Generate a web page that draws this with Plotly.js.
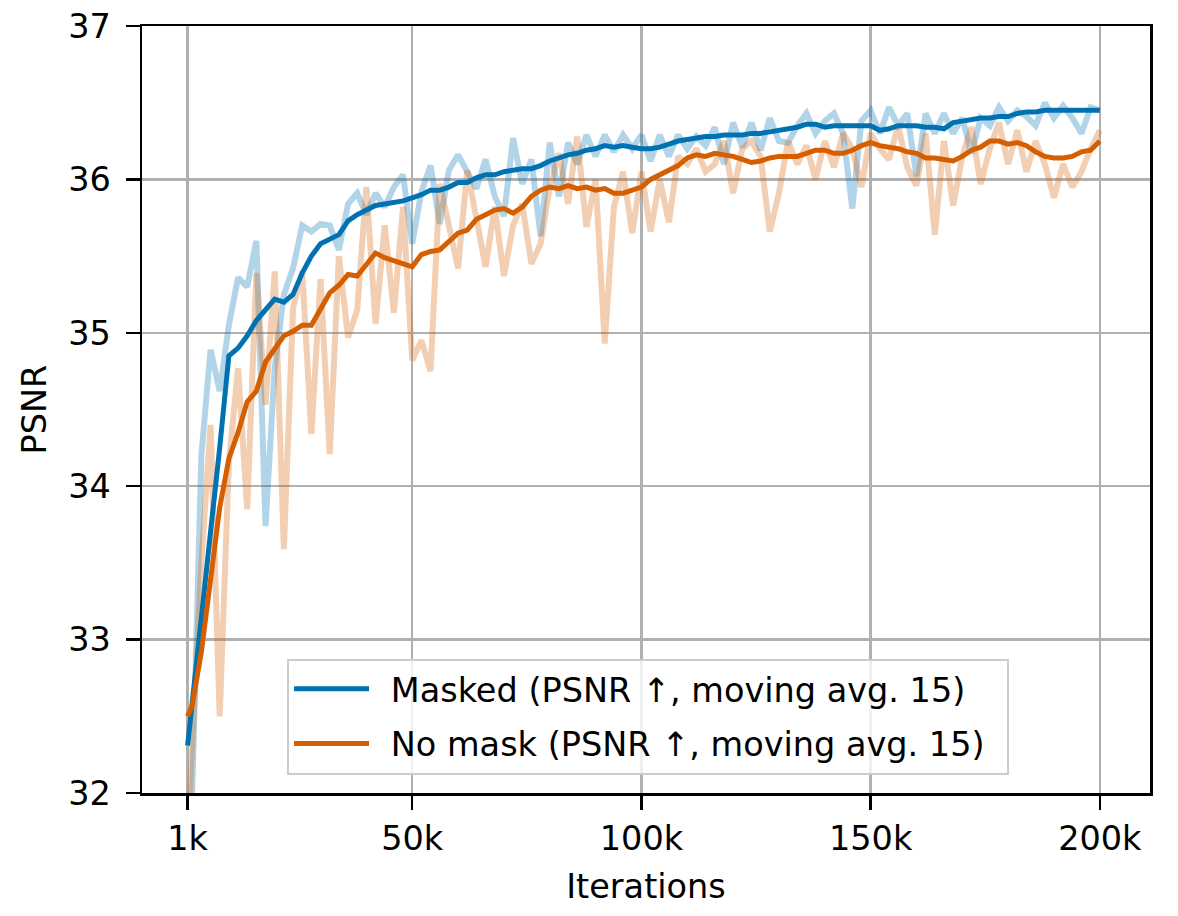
<!DOCTYPE html>
<html>
<head>
<meta charset="utf-8">
<script src="https://cdn.plot.ly/plotly-3.0.1.min.js"></script>
<style>html,body{margin:0;padding:0;background:#fff;}#chart{width:1178px;height:916px;}</style>
</head>
<body>
<div id="chart"></div>
<script>
// iterations (thousands)
const iterK = [1,2,4,6,8,10,12,14,16,18,20,22,24,26,28,30,32,34,36,38,40,42,44,46,48,50,52,54,56,58,60,62,64,66,68,70,72,74,76,78,80,82,84,86,88,90,92,94,96,98,100,102,104,106,108,110,112,114,116,118,120,122,124,126,128,130,132,134,136,138,140,142,144,146,148,150,152,154,156,158,160,162,164,166,168,170,172,174,176,178,180,182,184,186,188,190,192,194,196,198,200];

const maskedRaw = [31.6,32.0,34.2,34.89,34.62,35.05,35.36,35.30,35.60,33.74,34.77,35.25,35.42,35.70,35.66,35.71,35.70,35.54,35.84,35.91,35.77,35.91,35.82,35.95,36.03,35.58,35.92,36.09,35.71,36.06,36.16,36.04,35.94,36.13,35.89,35.76,36.27,35.97,36.13,35.63,36.24,35.89,36.24,36.10,36.29,36.15,36.29,36.18,36.29,36.20,36.29,36.12,36.29,36.15,36.29,36.20,36.28,36.22,36.34,36.10,36.37,36.21,36.37,36.19,36.40,36.25,36.24,36.35,36.43,36.30,36.38,36.43,36.30,35.81,36.38,36.45,36.30,36.47,36.35,36.43,36.02,36.43,36.30,36.43,36.30,36.40,36.17,36.40,36.35,36.47,36.38,36.45,36.41,36.35,36.50,36.40,36.48,36.40,36.30,36.47,36.45];

const maskedAvg = [32.31,32.6,33.15,33.7,34.25,34.85,34.90,34.98,35.08,35.15,35.22,35.20,35.25,35.39,35.50,35.58,35.61,35.64,35.73,35.77,35.80,35.83,35.84,35.85,35.86,35.88,35.90,35.93,35.93,35.95,35.98,35.98,36.01,36.03,36.03,36.05,36.06,36.07,36.07,36.09,36.12,36.14,36.16,36.17,36.19,36.20,36.22,36.21,36.22,36.21,36.20,36.20,36.21,36.23,36.25,36.26,36.27,36.28,36.28,36.29,36.29,36.29,36.30,36.30,36.31,36.32,36.33,36.34,36.36,36.36,36.34,36.35,36.35,36.35,36.35,36.35,36.32,36.33,36.35,36.35,36.35,36.34,36.34,36.33,36.37,36.38,36.39,36.40,36.40,36.41,36.41,36.43,36.44,36.44,36.45,36.45,36.45,36.45,36.45,36.45,36.45];

const noMaskRaw = [31.7,32.3,33.5,34.40,32.50,34.15,34.77,33.85,35.39,34.53,35.40,33.59,35.16,35.40,34.34,35.35,34.21,35.50,34.97,35.15,35.95,35.06,35.70,35.13,35.82,34.82,34.95,34.75,35.97,35.70,35.42,36.06,35.75,35.43,35.82,35.37,35.70,35.84,35.45,35.58,35.95,36.17,35.84,36.28,35.69,36.00,34.93,35.82,36.05,35.65,36.05,35.66,36.00,35.72,36.15,36.10,36.20,36.05,36.10,36.25,35.91,36.20,36.25,36.15,35.66,35.91,36.25,36.10,36.22,36.00,36.25,36.08,36.30,36.20,35.95,36.30,36.20,36.13,36.35,36.08,35.96,36.30,35.64,36.25,35.83,36.15,36.34,35.97,36.20,36.37,36.10,36.32,36.05,36.25,36.10,35.88,36.10,35.95,36.05,36.20,36.32];

const noMaskAvg = [32.50,32.57,32.92,33.36,33.86,34.18,34.35,34.55,34.62,34.81,34.90,34.98,35.01,35.05,35.05,35.15,35.26,35.31,35.38,35.37,35.45,35.52,35.49,35.47,35.45,35.43,35.51,35.53,35.54,35.60,35.65,35.67,35.74,35.77,35.80,35.81,35.78,35.82,35.89,35.93,35.95,35.94,35.96,35.94,35.95,35.93,35.94,35.91,35.91,35.93,35.95,36.00,36.03,36.06,36.09,36.14,36.16,36.15,36.17,36.16,36.15,36.13,36.11,36.12,36.14,36.15,36.15,36.15,36.17,36.19,36.19,36.17,36.17,36.19,36.22,36.24,36.22,36.21,36.20,36.18,36.17,36.14,36.14,36.13,36.12,36.15,36.19,36.21,36.25,36.25,36.23,36.24,36.22,36.18,36.15,36.14,36.14,36.15,36.18,36.19,36.25];

const xTickVals = [1000,50000,100000,150000,200000];
const xTickText = ['1k','50k','100k','150k','200k'];
const yTickVals = [32,33,34,35,36,37];

const seriesNames = ['Masked (PSNR ↑, moving avg. 15)','No mask (PSNR ↑, moving avg. 15)'];
const BLUE = '#0072B2', ORANGE = '#D55E00';

const iters = iterK.map(k => k * 1000);

const traces = [
  {x: iters, y: maskedRaw, type:'scatter', mode:'lines', line:{color:BLUE, width:6}, opacity:0.3, showlegend:false, hoverinfo:'skip'},
  {x: iters, y: noMaskRaw, type:'scatter', mode:'lines', line:{color:ORANGE, width:6}, opacity:0.3, showlegend:false, hoverinfo:'skip'},
  {x: iters, y: maskedAvg, type:'scatter', mode:'lines', name: '\u2002' + seriesNames[0] + '\u2002', legendgroup:'a', line:{color:BLUE, width:5}},
  {x: iters, y: noMaskAvg, type:'scatter', mode:'lines', name: '\u2002' + seriesNames[1] + '\u2002', legendgroup:'b', line:{color:ORANGE, width:5}}
];

const FS = 33.5;
const FONT = 'DejaVu Sans, sans-serif';
const layout = {
  width:1178, height:916,
  margin:{l:142, r:28, t:26, b:123, pad:0},
  paper_bgcolor:'#fff', plot_bgcolor:'#fff',
  font:{family:FONT, size:FS, color:'#000'},
  showlegend:true,
  xaxis:{
    range:[-8950, 210950], tickvals:xTickVals, ticktext:xTickText,
    showline:true, linecolor:'#000', linewidth:2.5, mirror:true,
    ticks:'outside', ticklen:14, tickwidth:2.5, tickcolor:'#000',
    showgrid:true, gridcolor:'#b0b0b0', gridwidth:2.5, zeroline:false,
    tickfont:{size:FS}, title:{text:'Iterations', font:{size:FS}, standoff:18}
  },
  yaxis:{
    range:[32,37], tickvals:yTickVals,
    showline:true, linecolor:'#000', linewidth:2.5, mirror:true,
    ticks:'outside', ticklen:14, tickwidth:2.5, tickcolor:'#000', ticklabelstandoff:8,
    showgrid:true, gridcolor:'#b0b0b0', gridwidth:2.5, zeroline:false,
    tickfont:{size:FS}, title:{text:'PSNR', font:{size:FS}, standoff:12}
  },
  legend:{
    x:0.502, xanchor:'center', y:0.024, yanchor:'bottom',
    bgcolor:'rgba(255,255,255,0.8)', bordercolor:'#cccccc', borderwidth:2,
    font:{size:FS}, itemwidth:75, tracegroupgap:8, traceorder:'grouped'
  }
};

Plotly.newPlot('chart', traces, layout, {staticPlot:true, displayModeBar:false});
</script>
</body>
</html>
